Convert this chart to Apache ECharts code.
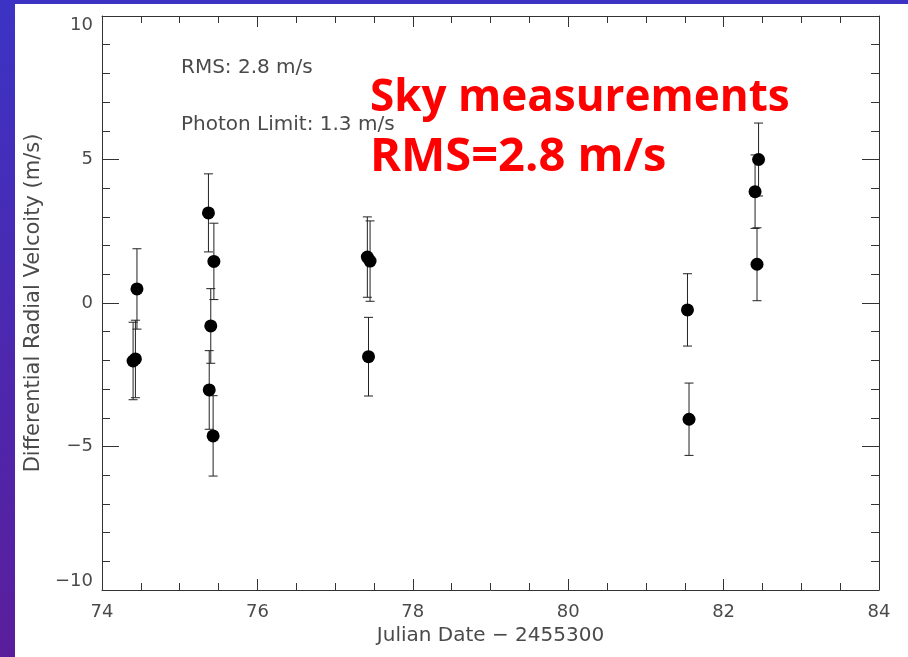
<!DOCTYPE html>
<html>
<head>
<meta charset="utf-8">
<script src="https://cdn.jsdelivr.net/npm/echarts@6/dist/echarts.min.js"></script>
<style>
html,body{margin:0;padding:0;background:#fff;}
#chart{width:908px;height:657px;}
</style>
</head>
<body>
<div id="chart"></div>
<script>
// Julian Date - 2455300
var julianDate = [74.40, 74.43, 74.45, 75.37, 75.44, 75.40, 75.38, 75.43, 77.415, 77.45, 77.43, 81.535, 81.555, 82.45, 82.405, 82.43];
// Differential radial velocity (m/s)
var velocity = [-2.02, -1.95, 0.49, 3.14, 1.45, -0.80, -3.03, -4.63, 1.60, 1.46, -1.87, -0.24, -4.05, 5.00, 3.88, 1.35];
// 1-sigma errors (m/s)
var velocityErr = [1.35, 1.35, 1.40, 1.36, 1.33, 1.30, 1.37, 1.40, 1.40, 1.40, 1.37, 1.26, 1.26, 1.27, 1.28, 1.27];
var xTicks = [74, 76, 78, 80, 82, 84];
var yTicks = [-10, -5, 0, 5, 10];
var annotations = ['RMS: 2.8 m/s', 'Photon Limit: 1.3 m/s'];
var redText = ['Sky measurements', 'RMS=2.8 m/s'];
var plotTitle = 'Sun';

var points = julianDate.map(function (x, i) { return [x, velocity[i]]; });
var errData = julianDate.map(function (x, i) { return [x, velocity[i] - velocityErr[i], velocity[i] + velocityErr[i]]; });

var labelFont = 'DejaVu Sans';
var axisColor = '#333';
var textColor = '#4a4a4a';

function fmtY(v) { return v < 0 ? '\u2212' + Math.abs(v) : String(v); }

function xAxisCfg(pos, show) {
  return {
    type: 'value', position: pos, min: 74, max: 84, interval: 2,
    axisLine: { show: true, onZero: false, lineStyle: { color: axisColor, width: 1 } },
    axisTick: { show: true, inside: true, length: 11, lineStyle: { color: axisColor } },
    minorTick: { show: true, splitNumber: 4, length: 7, lineStyle: { color: axisColor } },
    axisLabel: { show: show, color: textColor, fontFamily: labelFont, fontSize: 18, margin: 13,
      formatter: function (v) { return xTicks.indexOf(v) >= 0 ? String(v) : ''; } },
    splitLine: { show: false },
    name: show ? 'Julian Date \u2212 2455300' : '',
    nameLocation: 'middle', nameGap: 35,
    nameTextStyle: { color: textColor, fontFamily: labelFont, fontSize: 20 }
  };
}
function yAxisCfg(pos, show) {
  return {
    type: 'value', position: pos, min: -10, max: 10, interval: 5,
    axisLine: { show: true, onZero: false, lineStyle: { color: axisColor, width: 1 } },
    axisTick: { show: true, inside: true, length: 17, lineStyle: { color: axisColor } },
    minorTick: { show: true, splitNumber: 5, length: 8, lineStyle: { color: axisColor } },
    axisLabel: { show: show, color: textColor, fontFamily: labelFont, fontSize: 18, margin: 9,
      verticalAlignMaxLabel: 'top', verticalAlignMinLabel: 'bottom',
      formatter: function (v) { return yTicks.indexOf(v) >= 0 ? fmtY(v) : ''; } },
    splitLine: { show: false },
    name: show ? 'Differential Radial Velcoity (m/s)' : '',
    nameLocation: 'middle', nameGap: 54,
    nameTextStyle: { color: textColor, fontFamily: labelFont, fontSize: 21 }
  };
}

var chart = echarts.init(document.getElementById('chart'), null, { renderer: 'canvas' });
chart.setOption({
  animation: false,
  backgroundColor: '#fff',
  grid: { left: 102, right: 29, top: 16, bottom: 67 },
  xAxis: [xAxisCfg('bottom', true), xAxisCfg('top', false)],
  yAxis: [yAxisCfg('left', true), yAxisCfg('right', false)],
  graphic: [
    { type: 'text', z: 10, style: { x: 490, y: -10, text: plotTitle, fill: '#777', font: '18px DejaVu Sans', textAlign: 'center' } },
    { type: 'rect', z: 20, shape: { x: 0, y: 0, width: 908, height: 4 }, style: { fill: '#3c33c4' } },
    { type: 'rect', z: 20, shape: { x: 0, y: 0, width: 15, height: 657 },
      style: { fill: new echarts.graphic.LinearGradient(0, 0, 0, 1, [{ offset: 0, color: '#3c33c4' }, { offset: 1, color: '#5a1e9c' }]) } },
    { type: 'text', z: 10, style: { x: 181, y: 58, text: annotations[0], fill: textColor, font: '20px DejaVu Sans' } },
    { type: 'text', z: 10, style: { x: 181, y: 115, text: annotations[1], fill: textColor, font: '20px DejaVu Sans' } },
    { type: 'text', z: 10, style: { x: 370, y: 76, text: redText[0], fill: '#ff0000', font: 'bold 44px "Open Sans"' } },
    { type: 'text', z: 10, style: { x: 370, y: 134, text: redText[1], fill: '#ff0000', font: 'bold 47px "Open Sans"' } }
  ],
  series: [
    {
      type: 'custom', xAxisIndex: 0, yAxisIndex: 0, z: 2,
      data: errData,
      renderItem: function (params, api) {
        var lo = api.coord([api.value(0), api.value(1)]);
        var hi = api.coord([api.value(0), api.value(2)]);
        var w = 4.5;
        var st = { stroke: '#222', lineWidth: 1 };
        return { type: 'group', children: [
          { type: 'line', shape: { x1: lo[0], y1: lo[1], x2: hi[0], y2: hi[1] }, style: st },
          { type: 'line', shape: { x1: lo[0] - w, y1: lo[1], x2: lo[0] + w, y2: lo[1] }, style: st },
          { type: 'line', shape: { x1: hi[0] - w, y1: hi[1], x2: hi[0] + w, y2: hi[1] }, style: st }
        ] };
      }
    },
    {
      type: 'scatter', xAxisIndex: 0, yAxisIndex: 0, z: 3,
      data: points, symbol: 'circle', symbolSize: 13,
      itemStyle: { color: '#000', opacity: 1 }
    }
  ]
});
</script>
</body>
</html>
